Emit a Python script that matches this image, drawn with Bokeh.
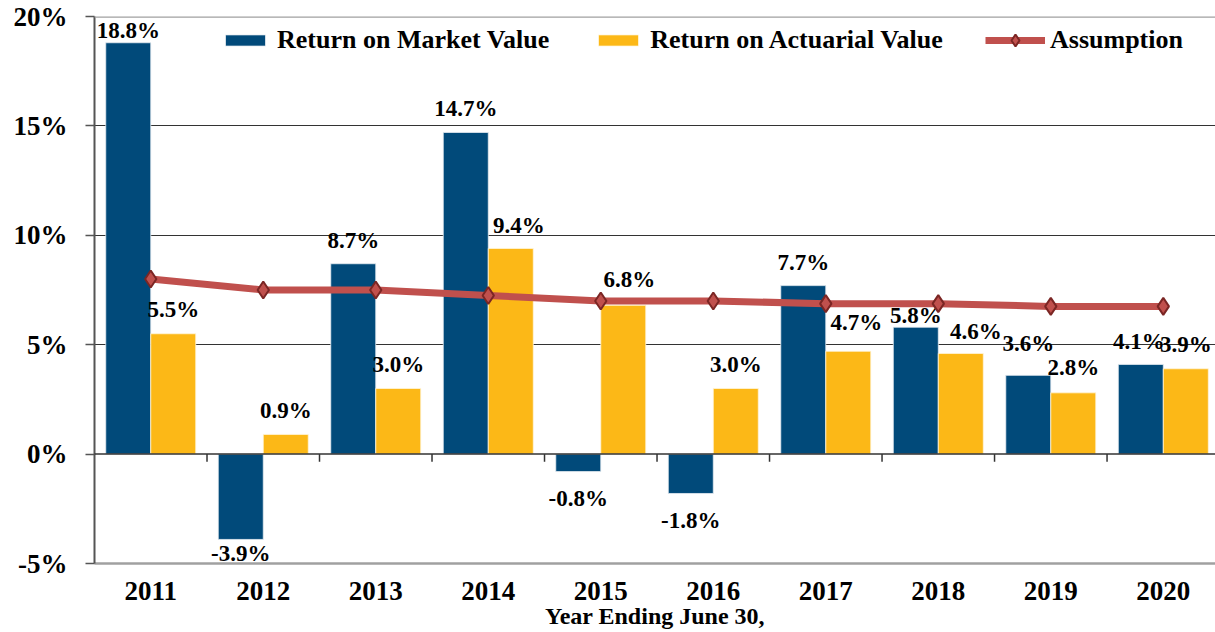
from bokeh.plotting import figure
from bokeh.models import (ColumnDataSource, Range1d, FixedTicker, PrintfTickFormatter,
                          Span, Legend, LegendItem)
from bokeh.embed import file_html
from bokeh.resources import INLINE
from bokeh.core.properties import value

# ---------------- data ----------------
years = ["2011", "2012", "2013", "2014", "2015", "2016", "2017", "2018", "2019", "2020"]
market = [18.8, -3.9, 8.7, 14.7, -0.8, -1.8, 7.7, 5.8, 3.6, 4.1]
actuarial = [5.5, 0.9, 3.0, 9.4, 6.8, 3.0, 4.7, 4.6, 2.8, 3.9]
assumption = [8.0, 7.5, 7.5, 7.25, 7.0, 7.0, 6.875, 6.875, 6.75, 6.75]
y_ticks = [-5, 0, 5, 10, 15, 20]

# label nudges (screen px) – layout only
market_dx = [0, 0, 0, 0, 0, 0, 0, 0, 0, -2]
market_dy = [-12, 14, -23, -24, 27, 27, -23, -12, -32, -23]
actuarial_dx = [0, 0, 0, 8, 6, 0, 8, 15, 0, 0]
actuarial_dy = [-24, -24, -24, -23, -26, -24, -29, -22, -25, -24]

BLUE = "#014A7A"
GOLD = "#FCB817"
RED = "#C0504D"
FONT = "'Liberation Serif', 'Times New Roman', serif"

idx = list(range(len(years)))
xm = [i - 0.2 for i in idx]
xa = [i + 0.2 for i in idx]

p = figure(width=1215, height=632,
           x_range=Range1d(-0.5, 9.464), y_range=Range1d(-5, 20),
           output_backend="svg", toolbar_location=None,
           min_border_left=94, min_border_right=0, min_border_top=16, min_border_bottom=69)
p.outline_line_color = None
p.background_fill_color = "white"
p.border_fill_color = "white"

# grid
p.xgrid.visible = False
p.ygrid.ticker = FixedTicker(ticks=[5, 10, 15])
p.ygrid.grid_line_color = "#333333"
p.ygrid.grid_line_width = 1

# y axis
p.yaxis.ticker = FixedTicker(ticks=y_ticks)
p.yaxis.formatter = PrintfTickFormatter(format="%d%%")
p.yaxis.major_label_text_font = FONT
p.yaxis.major_label_text_font_style = "bold"
p.yaxis.major_label_text_font_size = "27px"
p.yaxis.major_label_text_color = "black"
p.yaxis.axis_line_color = "#555555"
p.yaxis.axis_line_width = 2
p.yaxis.major_tick_line_color = "#555555"
p.yaxis.major_tick_line_width = 1.5
p.yaxis.major_tick_out = 9
p.yaxis.major_tick_in = 0
p.yaxis.minor_tick_line_color = None
p.yaxis.major_label_standoff = 18

# x axis
p.xaxis.ticker = FixedTicker(ticks=idx)
p.xaxis.major_label_overrides = {i: y for i, y in zip(idx, years)}
p.xaxis.major_label_text_font = FONT
p.xaxis.major_label_text_font_style = "bold"
p.xaxis.major_label_text_font_size = "27px"
p.xaxis.major_label_text_color = "black"
p.xaxis.major_tick_line_color = None
p.xaxis.minor_tick_line_color = None
p.xaxis.axis_line_color = "#A0A0A0"
p.xaxis.axis_line_width = 2.5
p.xaxis.major_label_standoff = 12
p.xaxis.axis_label = "Year Ending June 30,"
p.xaxis.axis_label_text_font = FONT
p.xaxis.axis_label_text_font_style = "bold"
p.xaxis.axis_label_text_font_size = "24px"
p.xaxis.axis_label_text_color = "black"
p.xaxis.axis_label_standoff = 0

# frame top line and zero line
p.add_layout(Span(location=20, dimension="width", line_color="#A0A0A0", line_width=2.5))
p.add_layout(Span(location=0, dimension="width", line_color="#333333", line_width=1.5))
bounds = [i + 0.5 for i in idx[:-1]]
p.segment(x0=bounds, y0=[0] * len(bounds), x1=bounds, y1=[-0.35] * len(bounds),
          line_color="#333333", line_width=1.5)

# bars
rm = p.vbar(x=xm, top=market, bottom=0, width=0.4, fill_color=BLUE,
            line_color="#E8EEF3", line_width=0.8)
ra = p.vbar(x=xa, top=actuarial, bottom=0, width=0.4, fill_color=GOLD,
            line_color="#FFF6DD", line_width=0.8)

# data labels
lab = ColumnDataSource(dict(
    x=xm + xa,
    y=market + actuarial,
    text=[f"{v:.1f}%" for v in market + actuarial],
    dx=market_dx + actuarial_dx,
    dy=market_dy + actuarial_dy,
))
p.text(x="x", y="y", text="text", x_offset="dx", y_offset="dy", source=lab,
       text_align="center", text_baseline="middle", text_font=value(FONT),
       text_font_style="bold", text_font_size="23px", text_color="black")

# assumption line
rl = p.line(idx, assumption, line_color=RED, line_width=7)
rs = p.scatter(idx, assumption, marker="diamond", size=17, fill_color=RED,
               line_color="#7B2624", line_width=2)

common = dict(orientation="horizontal", padding=0, margin=0, label_text_font=FONT,
              label_text_font_style="bold", label_text_font_size="26px",
              label_text_color="black", background_fill_alpha=0, border_line_color=None)

legend1 = Legend(items=[
    LegendItem(label="Return on Market Value", renderers=[rm]),
    LegendItem(label="Return on Actuarial Value", renderers=[ra]),
], location=(126, 508), spacing=44, glyph_width=50, glyph_height=14, label_standoff=7,
    **common)
legend2 = Legend(items=[
    LegendItem(label="Assumption", renderers=[rl, rs]),
], location=(891, 508), glyph_width=60, glyph_height=30, label_standoff=5, **common)
p.add_layout(legend1)
p.add_layout(legend2)

open("out.html", "w").write(file_html(p, INLINE))
